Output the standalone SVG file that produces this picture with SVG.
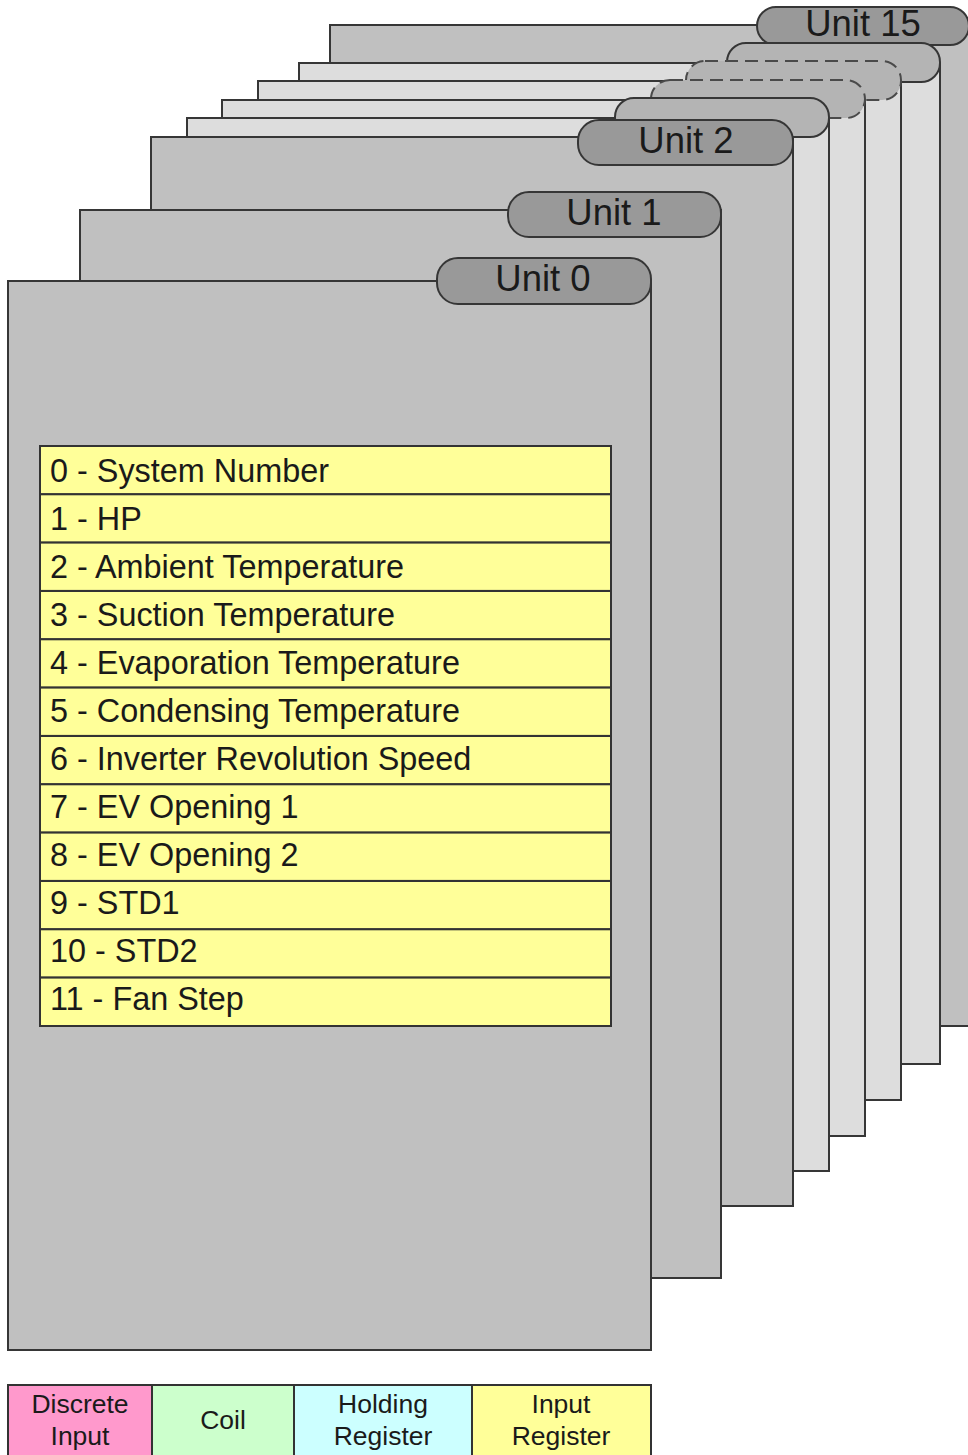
<svg xmlns="http://www.w3.org/2000/svg" width="968" height="1455" viewBox="0 0 968 1455">
<style>
.page{fill:#c0c0c0;stroke:#363636;stroke-width:2}
.page.lt{fill:#dddddd}
.tab{fill:#999999;stroke:#363636;stroke-width:2}
.tab.mid{fill:#b4b4b4}
.tab.dash{fill:#b4b4b4;stroke:#4a4a4a;stroke-dasharray:13 7}
.tt{font-family:"Liberation Sans",Arial,sans-serif;font-size:36.5px;fill:#1a1a1a;text-anchor:middle}
.row{fill:#ffff99;stroke:#333;stroke-width:2}
.it{font-family:"Liberation Sans",Arial,sans-serif;font-size:32.4px;fill:#1a1a1a}
.lg{stroke:#333;stroke-width:2}
.lt2{font-family:"Liberation Sans",Arial,sans-serif;font-size:26.5px;fill:#1a1a1a;text-anchor:middle}
</style>
<rect width="968" height="1455" fill="#ffffff"/>
<g id="unit15">
<rect class="page" x="330" y="25" width="641" height="1001"/>
<rect class="tab" x="757" y="7" width="212" height="38" rx="19"/>
<text class="tt" x="863" y="36">Unit 15</text>
</g>
<g id="unit14">
<rect class="page lt" x="299" y="63" width="641" height="1001"/>
<rect class="tab mid" x="727" y="43" width="213" height="39" rx="19"/>
</g>
<g id="unit13">
<rect class="page lt" x="258" y="81" width="643" height="1019"/>
<rect class="tab dash" x="686" y="61" width="215" height="39" rx="19"/>
</g>
<g id="unit12">
<rect class="page lt" x="222" y="100" width="643" height="1036"/>
<rect class="tab dash" x="651" y="80" width="214" height="38" rx="19"/>
</g>
<g id="unit3">
<rect class="page lt" x="187" y="118" width="642" height="1053"/>
<rect class="tab mid" x="615" y="98" width="214" height="39" rx="19"/>
</g>
<g id="unit2">
<rect class="page" x="151" y="137" width="642" height="1069"/>
<rect class="tab" x="578" y="120" width="215" height="45" rx="21"/>
<text class="tt" x="686" y="153">Unit 2</text>
</g>
<g id="unit1">
<rect class="page" x="80" y="210" width="641" height="1068"/>
<rect class="tab" x="508" y="192" width="213" height="45" rx="21"/>
<text class="tt" x="614" y="225">Unit 1</text>
</g>
<g id="unit0">
<rect class="page" x="8" y="281" width="643" height="1069"/>
<rect class="tab" x="437" y="258" width="214" height="46" rx="21"/>
<text class="tt" x="543" y="291">Unit 0</text>
</g>
<g id="registers">
<rect class="row" x="40" y="446" width="571" height="48.3"/>
<rect class="row" x="40" y="494.3" width="571" height="48.3"/>
<rect class="row" x="40" y="542.6" width="571" height="48.3"/>
<rect class="row" x="40" y="591" width="571" height="48.3"/>
<rect class="row" x="40" y="639.3" width="571" height="48.3"/>
<rect class="row" x="40" y="687.6" width="571" height="48.3"/>
<rect class="row" x="40" y="736" width="571" height="48.3"/>
<rect class="row" x="40" y="784.3" width="571" height="48.3"/>
<rect class="row" x="40" y="832.6" width="571" height="48.3"/>
<rect class="row" x="40" y="881" width="571" height="48.3"/>
<rect class="row" x="40" y="929.3" width="571" height="48.3"/>
<rect class="row" x="40" y="977.6" width="571" height="48.4"/>
<text class="it" x="50" y="482">0 - System Number</text>
<text class="it" x="50" y="530">1 - HP</text>
<text class="it" x="50" y="578">2 - Ambient Temperature</text>
<text class="it" x="50" y="626">3 - Suction Temperature</text>
<text class="it" x="50" y="674">4 - Evaporation Temperature</text>
<text class="it" x="50" y="722">5 - Condensing Temperature</text>
<text class="it" x="50" y="770">6 - Inverter Revolution Speed</text>
<text class="it" x="50" y="818">7 - EV Opening 1</text>
<text class="it" x="50" y="866">8 - EV Opening 2</text>
<text class="it" x="50" y="914">9 - STD1</text>
<text class="it" x="50" y="962">10 - STD2</text>
<text class="it" x="50" y="1010">11 - Fan Step</text>
</g>
<g id="legend">
<rect class="lg" x="8" y="1385" width="144" height="80" fill="#ff99cc"/>
<rect class="lg" x="152" y="1385" width="142" height="80" fill="#ccffcc"/>
<rect class="lg" x="294" y="1385" width="178" height="80" fill="#ccffff"/>
<rect class="lg" x="472" y="1385" width="179" height="80" fill="#ffff99"/>
<text class="lt2" x="80" y="1413">Discrete</text>
<text class="lt2" x="80" y="1445">Input</text>
<text class="lt2" x="223" y="1429">Coil</text>
<text class="lt2" x="383" y="1413">Holding</text>
<text class="lt2" x="383" y="1445">Register</text>
<text class="lt2" x="561" y="1413">Input</text>
<text class="lt2" x="561" y="1445">Register</text>
</g>
</svg>
